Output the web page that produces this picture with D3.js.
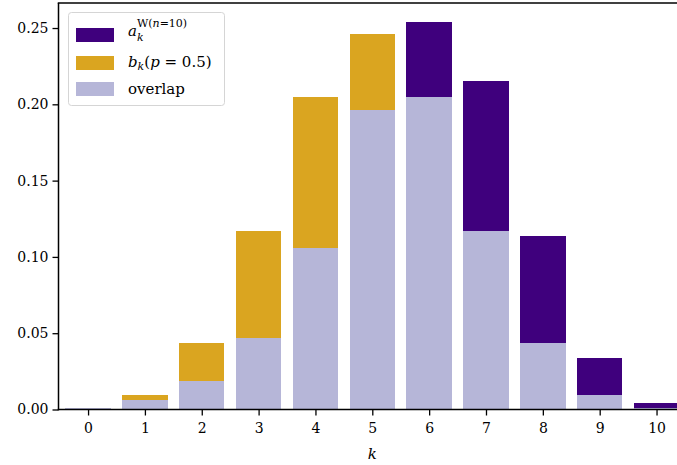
<!DOCTYPE html>
<html>
<head>
<meta charset="utf-8">
<script src="https://cdn.jsdelivr.net/npm/d3@7"></script>
<style>
  body { margin: 0; background: white; }
  text { font-family: "DejaVu Serif", serif; }
</style>
</head>
<body>
<script>
let width = 677
let height = 465

// data
let categories = [0, 1, 2, 3, 4, 5, 6, 7, 8, 9, 10]
let aValues = [0.0008, 0.006, 0.019, 0.047, 0.106, 0.196, 0.254, 0.215, 0.1135, 0.034, 0.004]
let bValues = [0.00098, 0.0098, 0.0439, 0.1172, 0.2051, 0.2461, 0.2051, 0.1172, 0.0439, 0.0098, 0.00098]
let yTicks = [0, 0.05, 0.10, 0.15, 0.20, 0.25]

let colorA = '#3f007d'
let colorB = '#daa520'
let colorOverlap = '#b6b6d8'

let margin = { left: 58.5, top: 3, bottom: 409.5 }

let svg = d3.select("body").append("svg")
            .attr("width", width)
            .attr("height", height)

svg.append('rect')
   .attr('width', '100%')
   .attr('height', '100%')
   .attr('fill', 'white')

let x = d3.scaleLinear()
          .domain([-0.52, 10.36])
          .range([margin.left, 677])

let y = d3.scaleLinear()
          .domain([0, 0.2664])
          .range([margin.bottom, margin.top])

let barWidth = (x(1) - x(0)) * 0.8

let rows = categories.map((k, i) => ({ k: k, a: aValues[i], b: bValues[i], o: Math.min(aValues[i], bValues[i]) }))

let plot = svg.append('g').attr('shape-rendering', 'crispEdges')

function drawBars(key, color) {
    plot.selectAll('rect.' + key)
        .data(rows)
        .enter()
        .append('rect')
        .attr('class', key)
        .attr('x', d => x(d.k) - barWidth / 2)
        .attr('y', d => y(d[key]))
        .attr('width', barWidth)
        .attr('height', d => y(0) - y(d[key]))
        .attr('fill', color)
}

drawBars('a', colorA)
drawBars('b', colorB)
drawBars('o', colorOverlap)

// axes
let yAxis = svg.append('g')
               .attr('transform', 'translate(' + margin.left + ',0)')
               .call(d3.axisLeft(y).tickValues(yTicks).tickFormat(d3.format('.2f')).tickSize(6).tickPadding(4))

let xAxis = svg.append('g')
               .attr('transform', 'translate(0,' + margin.bottom + ')')
               .call(d3.axisBottom(x).tickValues(categories).tickFormat(d3.format('d')).tickSize(6).tickPadding(8))

for (let ax of [xAxis, yAxis]) {
    ax.select('.domain').remove()
    ax.selectAll('.tick line').attr('stroke', 'black').attr('stroke-width', 1.3)
    ax.selectAll('.tick text')
      .attr('fill', 'black')
      .attr('font-family', '"DejaVu Serif", serif')
      .attr('font-size', '14px')
}

// spines
svg.append('line')
   .attr('x1', margin.left).attr('y1', margin.top)
   .attr('x2', margin.left).attr('y2', margin.bottom + 0.75)
   .attr('stroke', 'black').attr('stroke-width', 1.5)
svg.append('line')
   .attr('x1', margin.left - 0.75).attr('y1', margin.bottom)
   .attr('x2', width).attr('y2', margin.bottom)
   .attr('stroke', 'black').attr('stroke-width', 1.5)
svg.append('line')
   .attr('x1', margin.left - 0.75).attr('y1', margin.top)
   .attr('x2', width).attr('y2', margin.top)
   .attr('stroke', 'black').attr('stroke-width', 1.5)

// x axis label
svg.append('text')
   .attr('x', x(5))
   .attr('y', 459)
   .attr('text-anchor', 'middle')
   .attr('font-size', '15px')
   .attr('font-style', 'italic')
   .text('k')

// legend
let legend = svg.append('g')
legend.append('rect')
      .attr('x', 68.5).attr('y', 12.5)
      .attr('width', 156).attr('height', 93)
      .attr('rx', 3)
      .attr('fill', 'white')
      .attr('fill-opacity', 0.8)
      .attr('stroke', '#d5d5d5')

let legendColors = [colorA, colorB, colorOverlap]
let patchY = [28, 56, 82]
legend.selectAll('rect.patch')
      .data(legendColors)
      .enter()
      .append('rect')
      .attr('class', 'patch')
      .attr('x', 76)
      .attr('y', (d, i) => patchY[i])
      .attr('width', 38)
      .attr('height', 14)
      .attr('fill', d => d)

let t1 = legend.append('text').attr('x', 128).attr('y', 36).attr('font-size', '15px')
t1.append('tspan').attr('font-style', 'italic').text('a')
t1.append('tspan').attr('font-size', '11px').attr('dy', -9).text('W(')
t1.append('tspan').attr('font-size', '11px').attr('font-style', 'italic').text('n')
t1.append('tspan').attr('font-size', '11px').text('=10)')
t1.append('tspan').attr('x', 137).attr('dy', 14).attr('font-size', '11px').attr('font-style', 'italic').text('k')

let t2 = legend.append('text').attr('x', 128).attr('y', 67).attr('font-size', '15px')
t2.append('tspan').attr('font-style', 'italic').text('b')
t2.append('tspan').attr('font-size', '11px').attr('font-style', 'italic').attr('dy', 3).text('k')
t2.append('tspan').attr('dy', -3).text('(')
t2.append('tspan').attr('font-style', 'italic').text('p')
t2.append('tspan').text(' = 0.5)')

legend.append('text').attr('x', 128).attr('y', 94).attr('font-size', '15px').text('overlap')
</script>
</body>
</html>
